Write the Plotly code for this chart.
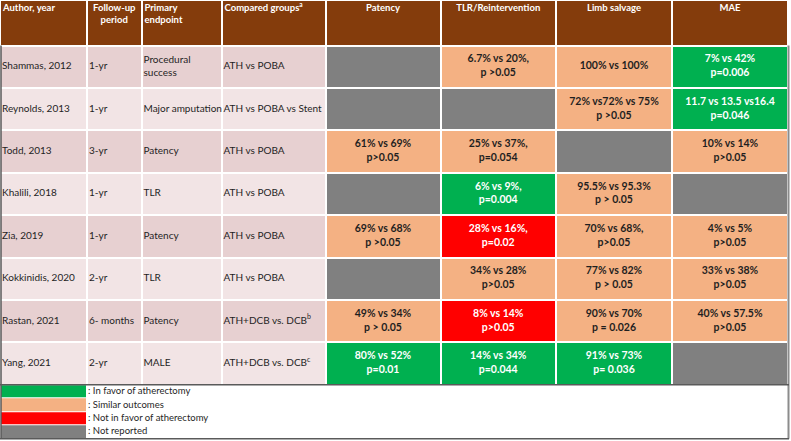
import plotly.graph_objects as go

# ---------------- data ----------------
headers = ["Author, year", "Follow-up<br>period", "Primary<br>endpoint",
           "Compared groups<sup>a</sup>", "Patency", "TLR/Reintervention",
           "Limb salvage", "MAE"]

authors = ["Shammas, 2012", "Reynolds, 2013", "Todd, 2013", "Khalili, 2018",
           "Zia, 2019", "Kokkinidis, 2020", "Rastan, 2021", "Yang, 2021"]
followup = ["1-yr", "1-yr", "3-yr", "1-yr", "1-yr", "2-yr", "6- months", "2-yr"]
endpoint = ["Procedural<br>success", "Major amputation", "Patency", "TLR",
            "Patency", "TLR", "Patency", "MALE"]
groups = ["ATH vs POBA", "ATH vs POBA vs Stent", "ATH vs POBA", "ATH vs POBA",
          "ATH vs POBA", "ATH vs POBA", "ATH+DCB vs. DCB<sup>b</sup>",
          "ATH+DCB vs. DCB<sup>c</sup>"]

# outcome categories: F = in favor, S = similar, N = not in favor, R = not reported
patency_txt = ["", "", "61% vs 69%<br>p>0.05", "", "69% vs 68%<br>p >0.05", "",
               "49% vs 34%<br>p > 0.05", "80% vs 52%<br>p=0.01"]
patency_cat = ["R", "R", "S", "R", "S", "R", "S", "F"]

tlr_txt = ["6.7% vs 20%,<br>p >0.05", "", "25% vs 37%,<br>p=0.054", "6% vs 9%,<br>p=0.004",
           "28% vs 16%,<br>p=0.02", "34% vs 28%<br>p>0.05", "8% vs 14%<br>p>0.05",
           "14% vs 34%<br>p=0.044"]
tlr_cat = ["S", "R", "S", "F", "N", "S", "N", "F"]

limb_txt = ["100% vs 100%", "72% vs72% vs 75%<br>p >0.05", "", "95.5% vs 95.3%<br>p > 0.05",
            "70% vs 68%,<br>p>0.05", "77% vs 82%<br>p > 0.05", "90% vs 70%<br>p = 0.026",
            "91% vs 73%<br>p= 0.036"]
limb_cat = ["S", "S", "R", "S", "S", "S", "S", "F"]

mae_txt = ["7% vs 42%<br>p=0.006", "11.7 vs 13.5 vs16.4<br>p=0.046", "10% vs 14%<br>p>0.05", "",
           "4% vs 5%<br>p>0.05", "33% vs 38%<br>p>0.05", "40% vs 57.5%<br>p>0.05", ""]
mae_cat = ["F", "F", "S", "R", "S", "S", "S", "R"]

legend_cats = ["F", "S", "N", "R"]
legend_labels = [": In favor of atherectomy", ": Similar outcomes",
                 ": Not in favor of atherectomy", ": Not reported"]

# ---------------- style ----------------
HEADER = "#843C0C"
PINK_D = "#E7D0D1"
PINK_L = "#F2E4E5"
CAT_COLOR = {"F": "#00B050", "S": "#F4B183", "N": "#FF0000", "R": "#808080"}
CAT_TEXT = {"F": "white", "S": "#1f1f1f", "N": "white", "R": "#1f1f1f"}
palette = [HEADER, PINK_D, PINK_L, CAT_COLOR["F"], CAT_COLOR["S"], CAT_COLOR["N"],
           CAT_COLOR["R"], "#FFFFFF"]
CODE = {"F": 3, "S": 4, "N": 5, "R": 6}

FONT = "Lato, Liberation Sans, sans-serif"
FS_HDR = 9.5
FS_DESC = 10
FS_RES = 10.5
FS_LEG = 9.5
col_edges = [0, 87, 141.5, 221.5, 325.5, 440.5, 556, 672, 788]
header_h = 45.5
row_h = 42.4
n_rows = len(authors)
row_edges = [0, header_h] + [header_h + row_h * (i + 1) for i in range(n_rows)]
table_bottom = row_edges[-1]
leg_h = 13.4
leg_edges = [table_bottom + 0.5 + leg_h * i for i in range(len(legend_cats) + 1)]

W, H = 791, 441

# ---------------- z matrix ----------------
n = len(palette)
colorscale = []
for i, c in enumerate(palette):
    colorscale.append([i / n, c])
    colorscale.append([(i + 1) / n, c])

z = [[0] * 8]
cats_by_col = [patency_cat, tlr_cat, limb_cat, mae_cat]
for r in range(n_rows):
    base = 1 if r % 2 == 0 else 2
    z.append([base] * 4 + [CODE[cats_by_col[c][r]] for c in range(4)])

fig = go.Figure()
fig.add_trace(go.Heatmap(
    x=col_edges, y=row_edges, z=z, colorscale=colorscale, zmin=-0.5, zmax=n - 0.5,
    showscale=False, xgap=2, ygap=2, hoverinfo="skip"))

# legend swatches
zl = [[CODE[c], 7] for c in legend_cats]
fig.add_trace(go.Heatmap(
    x=[0, 87, 788], y=leg_edges, z=zl, colorscale=colorscale, zmin=-0.5, zmax=n - 0.5,
    showscale=False, xgap=2, ygap=1, hoverinfo="skip"))

# ---------------- text ----------------
centers = [(col_edges[i] + col_edges[i + 1]) / 2 for i in range(8)]
row_mid = [(row_edges[i + 1] + row_edges[i + 2]) / 2 for i in range(n_rows)]

# header text (top aligned)
hdr_left = [0, 2, 3]
hdr_center = [1, 4, 5, 6, 7]
fig.add_trace(go.Scatter(
    x=[col_edges[i] + 3 for i in hdr_left], y=[3.5] * len(hdr_left),
    text=["<b>%s</b>" % headers[i] for i in hdr_left], mode="text",
    textposition="bottom right", textfont=dict(family=FONT, size=FS_HDR, color="white"),
    hoverinfo="skip"))
fig.add_trace(go.Scatter(
    x=[centers[i] for i in hdr_center], y=[3.5] * len(hdr_center),
    text=["<b>%s</b>" % headers[i] for i in hdr_center], mode="text",
    textposition="bottom center", textfont=dict(family=FONT, size=FS_HDR, color="white"),
    hoverinfo="skip"))

# left-aligned descriptive columns
for ci, col in enumerate([authors, followup, endpoint, groups]):
    fig.add_trace(go.Scatter(
        x=[col_edges[ci] + 2] * n_rows, y=row_mid, text=col, mode="text",
        textposition="middle right", textfont=dict(family=FONT, size=FS_DESC, color="#1f1f1f"),
        hoverinfo="skip"))

# outcome columns (only cells that carry text)
for k, (txt, cat) in enumerate([(patency_txt, patency_cat), (tlr_txt, tlr_cat),
                                (limb_txt, limb_cat), (mae_txt, mae_cat)]):
    ci = 4 + k
    idx = [r for r in range(n_rows) if txt[r]]
    fig.add_trace(go.Scatter(
        x=[centers[ci]] * len(idx), y=[row_mid[r] for r in idx],
        text=["<b>%s</b>" % txt[r] for r in idx], mode="text",
        textposition="middle center",
        textfont=dict(family=FONT, size=FS_RES, color=[CAT_TEXT[cat[r]] for r in idx]),
        hoverinfo="skip"))

# legend text
leg_mid = [(leg_edges[i] + leg_edges[i + 1]) / 2 for i in range(len(legend_cats))]
fig.add_trace(go.Scatter(
    x=[col_edges[1] + 1] * len(legend_labels), y=leg_mid, text=legend_labels, mode="text",
    textposition="middle right", textfont=dict(family=FONT, size=FS_LEG, color="#262626"),
    hoverinfo="skip"))

# ---------------- borders ----------------
border = dict(color="#5a5a5a", width=1.5)
shapes = [
    dict(type="line", x0=1, x1=1, y0=header_h, y1=leg_edges[-1], line=border),
    dict(type="line", x0=788.5, x1=788.5, y0=header_h, y1=leg_edges[-1],
         line=dict(color="#8c8c8c", width=2)),
    dict(type="line", x0=0, x1=789, y0=leg_edges[-1], y1=leg_edges[-1], line=border),
    dict(type="line", x0=0, x1=789, y0=table_bottom, y1=table_bottom, line=border),
]

fig.update_layout(
    width=W, height=H, margin=dict(l=0, r=0, t=0, b=0),
    paper_bgcolor="white", plot_bgcolor="white", showlegend=False,
    xaxis=dict(range=[0, W], visible=False, fixedrange=True),
    yaxis=dict(range=[H, 0], visible=False, fixedrange=True),
    shapes=shapes,
)

fig.write_html("out.html", config={"displayModeBar": False},
               post_script="document.body.style.margin='0';document.body.style.overflow='hidden';")
